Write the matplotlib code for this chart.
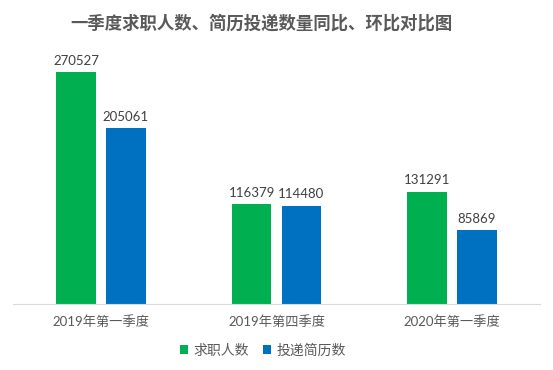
import matplotlib
matplotlib.use('Agg')
import matplotlib.pyplot as plt
import numpy as np

plt.rcParams['font.family'] = ['Lato', 'Noto Sans CJK SC', 'DejaVu Sans']

title = '一季度求职人数、简历投递数量同比、环比对比图'
quarters = ['2019年第一季度', '2019年第四季度', '2020年第一季度']
series_names = ['求职人数', '投递简历数']
job_seekers = [270527, 116379, 131291]
resumes = [205061, 114480, 85869]

green = '#00B050'
blue = '#0070C0'
gray = '#595959'

fig = plt.figure(figsize=(5.53, 3.70), dpi=100)
ax = fig.add_axes([13/553, 1 - 304/370, 527/553, 257/370])

x = np.arange(len(quarters))
w = 0.225
off = 0.142

b1 = ax.bar(x - off, job_seekers, w, color=green, label=series_names[0])
b2 = ax.bar(x + off, resumes, w, color=blue, label=series_names[1])

for bars, vals in [(b1, job_seekers), (b2, resumes)]:
    for bar, v in zip(bars, vals):
        ax.annotate(str(v), (bar.get_x() + bar.get_width() / 2, v),
                    xytext=(0, 4), textcoords='offset points',
                    ha='center', va='bottom', fontsize=9.5, color='#404040')

ax.set_xlim(-0.5, 2.5)
ax.set_ylim(0, 300000)
ax.set_xticks(x)
ax.set_xticklabels(quarters, fontsize=9.5, color=gray)
ax.tick_params(axis='x', length=0, pad=8)
ax.set_yticks([])
for s in ['top', 'right', 'left']:
    ax.spines[s].set_visible(False)
ax.spines['bottom'].set_color('#D9D9D9')

fig.text(0.472, 1 - 23/370, title, ha='center', va='center',
         fontsize=12.5, fontweight='bold', color=gray)

fig.legend(loc='center', bbox_to_anchor=(263/553, 1 - 350/370), ncol=2,
           frameon=False, fontsize=10, handlelength=0.6, handleheight=0.6,
           handletextpad=0.4, columnspacing=1.0, labelcolor=gray)

fig.savefig('out.png', dpi=100)
